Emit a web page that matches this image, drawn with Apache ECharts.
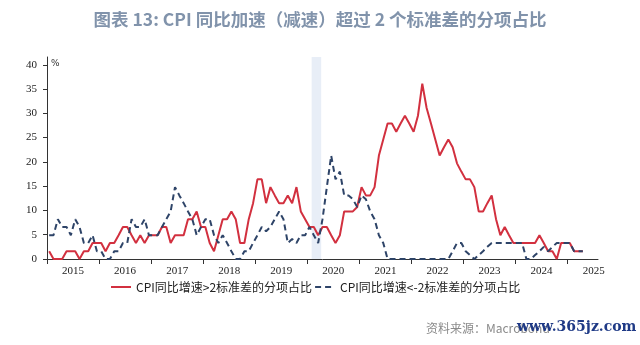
<!DOCTYPE html>
<html>
<head>
<meta charset="utf-8">
<script src="https://cdn.jsdelivr.net/npm/echarts@6/dist/echarts.min.js"></script>
<style>
  html, body { margin: 0; padding: 0; background: #ffffff; }
  #chart { width: 640px; height: 345px; }
</style>
</head>
<body>
<div id="chart"></div>
<script>
// Monthly shares (%) of CPI components whose YoY change exceeds +/-2 standard deviations, Jan 2015 onward
const startYear = 2015;
const upShare = [
  1.6, 0, 0, 0, 1.6, 1.6, 1.6, 0, 1.6, 1.6, 3.3, 3.3,
  3.3, 1.6, 3.3, 3.3, 4.9, 6.6, 6.6, 4.9, 3.3, 4.9, 3.3, 4.9,
  4.9, 4.9, 6.6, 6.6, 3.3, 4.9, 4.9, 4.9, 8.2, 8.2, 9.8, 6.6,
  6.6, 3.3, 1.6, 4.9, 8.2, 8.2, 9.8, 8.2, 3.3, 3.3, 8.2, 11.5,
  16.4, 16.4, 11.5, 14.8, 13.1, 11.5, 11.5, 13.1, 11.5, 14.8, 9.8, 8.2,
  6.6, 6.6, 4.9, 6.6, 6.6, 4.9, 3.3, 4.9, 9.8, 9.8, 9.8, 10.7,
  14.8, 13.1, 13.1, 14.8, 21.3, 24.6, 27.9, 27.9, 26.2, 27.9, 29.5, 27.9,
  26.2, 29.5, 36.1, 31.1, 27.9, 24.6, 21.3, 23.0, 24.6, 23.0, 19.7, 18.0,
  16.4, 16.4, 14.8, 9.8, 9.8, 11.5, 13.1, 8.2, 4.9, 6.6, 4.9, 3.3,
  3.3, 3.3, 3.3, 3.3, 3.3, 4.9, 3.3, 1.6, 1.6, 0, 3.3, 3.3,
  3.3, 1.6, 1.6, 1.6
];
const downShare = [
  4.9, 4.9, 8.2, 6.6, 6.6, 4.9, 8.2, 6.6, 3.3, 3.3, 4.9, 1.6,
  1.6, 0, 0, 1.6, 1.6, 3.3, 3.3, 8.2, 6.6, 6.6, 8.2, 4.9,
  4.9, 4.9, 6.6, 8.2, 9.8, 14.8, 13.1, 11.5, 9.8, 8.2, 4.9, 6.6,
  8.2, 8.2, 4.9, 3.3, 4.9, 3.3, 1.6, 0, 0, 1.6, 1.6, 3.3,
  4.9, 6.6, 5.7, 6.6, 8.2, 9.8, 8.2, 3.3, 4.1, 3.3, 4.9, 4.9,
  6.6, 4.9, 3.3, 8.2, 14.8, 21.3, 16.4, 18.0, 13.1, 13.1, 12.3, 10.7,
  13.1, 12.3, 9.8, 8.2, 4.9, 3.3, 0, 0, 0, 0, 0, 0,
  0, 0, 0, 0, 0, 0, 0, 0, 0, 1.6, 3.3, 3.3,
  1.6, 0.8, 0, 0.8, 1.6, 2.5, 3.3, 3.3, 3.3, 3.3, 3.3, 3.3,
  3.3, 3.3, 0, 0, 0.8, 1.6, 2.5, 1.6, 2.5, 3.3, 3.3, 3.3,
  3.3, 1.6, 1.6, 1.6
];
const yearLabels = ['2015', '2016', '2017', '2018', '2019', '2020', '2021', '2022', '2023', '2024', '2025'];
const yTicks = [0, 5, 10, 15, 20, 25, 30, 35, 40];
// Shaded period: Feb-Mar 2020, as [year, month] start and end (inclusive)
const shadeStart = [2020, 2];
const shadeEnd = [2020, 3];

const seriesNames = ['CPI同比增速>2标准差的分项占比', 'CPI同比增速<-2标准差的分项占比'];

// x is measured in months since Jan 2015; each observation sits mid-month
const toPoints = arr => arr.map((v, i) => [i + 0.5, v]);
const monthPos = (y, m) => (y - startYear) * 12 + (m - 1);

const yearStarts = yearLabels.map((_, k) => k * 12);
const yearMids = yearLabels.map((_, k) => k * 12 + 6);

const serif = 'Liberation Serif, Times New Roman, serif';
const cjk = 'Noto Sans CJK SC, sans-serif';

const chart = echarts.init(document.getElementById('chart'), null, { renderer: 'canvas' });
chart.setOption({
  animation: false,
  backgroundColor: '#ffffff',
  title: {
    text: '图表 13: CPI 同比加速（减速）超过 2 个标准差的分项占比',
    left: 'center',
    top: 6,
    textStyle: { fontFamily: cjk, fontSize: 17.5, fontWeight: 'bold', color: '#8193ab' }
  },
  grid: { left: 47, right: 42, top: 57, bottom: 86 },
  legend: {
    left: 105,
    top: 276,
    itemWidth: 20,
    itemHeight: 10,
    itemGap: 2,
    itemStyle: { opacity: 0 },
    textStyle: { fontFamily: cjk, fontSize: 12, color: '#222' },
    data: seriesNames
  },
  xAxis: {
    type: 'value',
    min: 0,
    max: 127,
    axisLine: { show: true, lineStyle: { color: '#333', width: 1 } },
    axisTick: { show: true, length: 5, customValues: yearStarts, lineStyle: { color: '#333' } },
    axisLabel: {
      customValues: yearMids,
      margin: 7,
      fontFamily: serif,
      fontSize: 11,
      color: '#222',
      formatter: v => yearLabels[Math.round((v - 6) / 12)]
    },
    splitLine: { show: false }
  },
  yAxis: {
    type: 'value',
    min: 0,
    max: 41.6,
    axisLine: { show: true, lineStyle: { color: '#333', width: 1 } },
    axisTick: { show: true, length: 4, customValues: yTicks, lineStyle: { color: '#333' } },
    axisLabel: { customValues: yTicks, margin: 10, fontFamily: serif, fontSize: 11, color: '#222' },
    splitLine: { show: false }
  },
  graphic: [
    { type: 'text', left: 51, top: 59, style: { text: '%', fontFamily: 'DejaVu Sans, sans-serif', fontSize: 9, fill: '#333' } },
    { type: 'text', left: 426, top: 322, style: { text: '资料来源：Macrobond', fontFamily: cjk, fontSize: 12, fill: '#8a8a8a' } },
    { type: 'text', left: 517, top: 320, style: { text: 'www.365jz.com', fontFamily: 'DejaVu Serif, serif', fontSize: 14, fontWeight: 'bold', fill: '#1f3a86' } }
  ],
  series: [
    {
      name: seriesNames[0],
      type: 'line',
      data: toPoints(upShare),
      symbol: 'none',
      lineStyle: { color: '#d2303f', width: 2 },
      itemStyle: { color: '#d2303f' },
      markArea: {
        silent: true,
        itemStyle: { color: '#e8eef7' },
        data: [[{ xAxis: monthPos(shadeStart[0], shadeStart[1]) }, { xAxis: monthPos(shadeEnd[0], shadeEnd[1]) + 1.2 }]]
      },
      z: 2
    },
    {
      name: seriesNames[1],
      type: 'line',
      data: toPoints(downShare),
      symbol: 'none',
      lineStyle: { color: '#2e4468', width: 2, type: [6, 4] },
      itemStyle: { color: '#2e4468' },
      z: 3
    }
  ]
});
</script>
</body>
</html>
